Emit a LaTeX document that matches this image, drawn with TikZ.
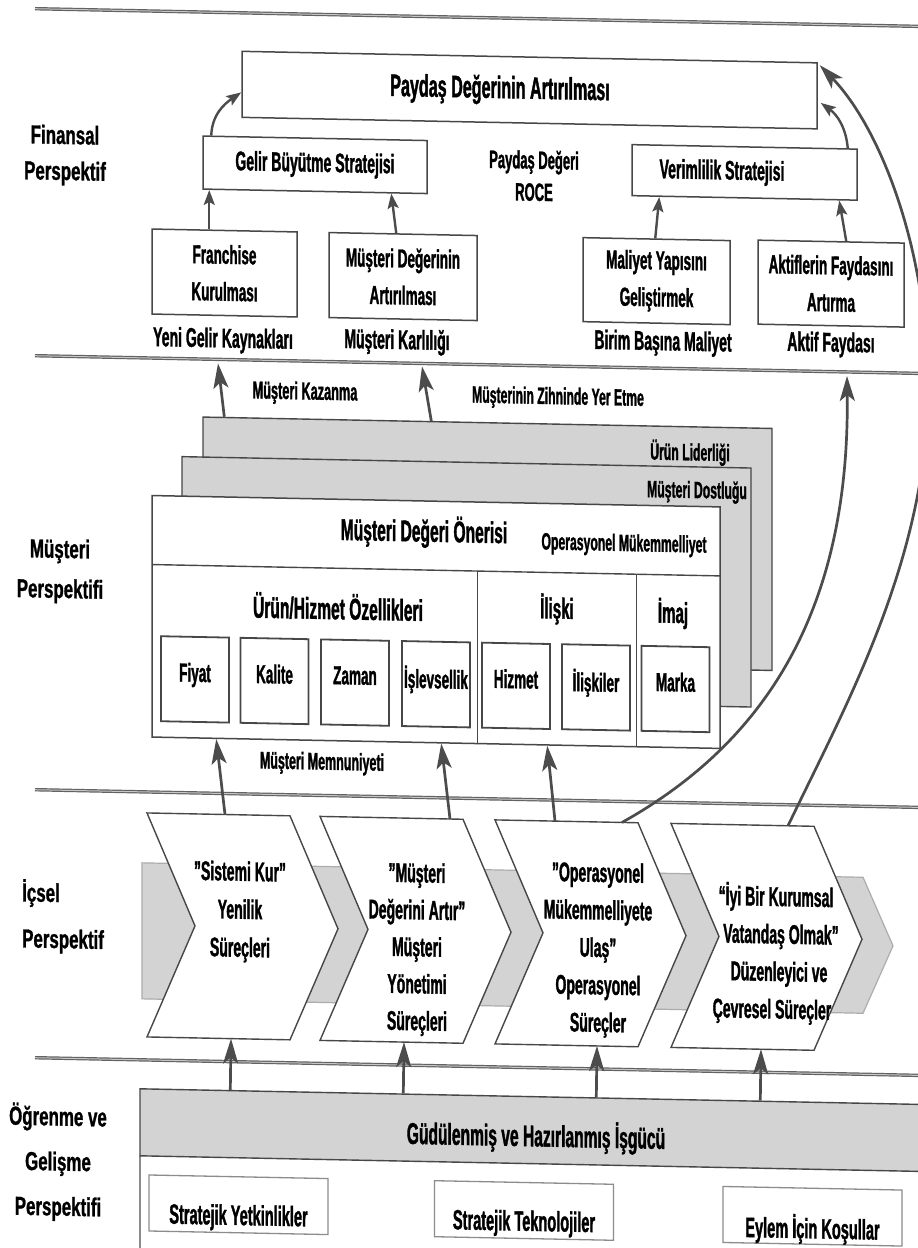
\documentclass[tikz,border=0pt]{standalone}
\usepackage{fontspec}
\setmainfont{Liberation Sans}[FakeStretch=0.52, BoldFeatures={FakeBold=1.2}]
\newfontfamily\sectfont{Liberation Sans}[FakeStretch=0.65, BoldFeatures={FakeBold=1.0}]
\usetikzlibrary{arrows.meta,calc}
\definecolor{linec}{HTML}{474747}
\definecolor{arrc}{HTML}{4C4C4C}
\definecolor{shade}{HTML}{D3D3D3}
\definecolor{sepc}{HTML}{626262}
\definecolor{lightline}{HTML}{8C8C8C}
\tikzset{
  fs/.style 2 args={font=\bfseries\fontsize{#1}{#2}\selectfont},
  txt/.style={align=center, inner sep=0pt, text=black},
  plainbox/.style={draw=linec, line width=1.5pt, fill=white, inner sep=0pt, align=center},
  smallbox/.style={plainbox, line width=1.8pt, minimum width=68pt, minimum height=85pt, fs={26}{10}},
  shadebox/.style={draw=linec, line width=1.4pt, fill=shade, inner sep=0pt},
  basebox/.style={draw=lightline, line width=1.3pt, fill=white, inner sep=0pt, minimum width=179pt, minimum height=56pt},
  chev/.style={draw=linec, line width=1.4pt, fill=white, line join=miter},
  arr/.style={draw=arrc, line width=2.4pt, -{Stealth[length=15pt,width=11pt,inset=3pt]}},
  bigarr/.style={draw=arrc, line width=2.7pt, -{Stealth[length=25pt,width=15pt,inset=6pt]}},
  sepline/.style={draw=sepc, line width=1.2pt, double=gray!45, double distance=1pt},
  sect/.style={align=center, inner sep=0pt, font=\sectfont\bfseries\fontsize{26}{#1}\selectfont},
}
\begin{document}
\begin{tikzpicture}[x=1pt,y=-1pt]
\useasboundingbox (0,0) rectangle (918,1248);
\clip (0,0) rectangle (918,1248);
\fill[white] (0,0) rectangle (918,1248);
\begin{scope}[yslant=-0.02, transform shape]

% perspective separators
\draw[sepline] (35,8) -- (935,8);
\draw[sepline] (35,355) -- (935,355);
\draw[sepline] (35,789) -- (935,789);
\draw[sepline] (35,1057) -- (935,1057);

% perspective titles
\node[sect=36] (pfin) at (65,154) {Finansal\\Perspektif};
\node[sect=40] (pmus) at (60,570) {Müşteri\\Perspektifi};
\node[sect=46, align=left, anchor=west] (pic) at (22,915.5) {İçsel\\Perspektif};
\node[sect=45] (pogr) at (58,1161) {Öğrenme ve\\Gelişme\\Perspektifi};

% financial perspective
\node[plainbox, minimum width=575pt, minimum height=66pt] (pay) at (529.5,79.5) {};
\node[txt, fs={31}{37}] (payt) at (500,80) {Paydaş Değerinin Artırılması};
\node[plainbox, minimum width=224pt, minimum height=53pt, fs={27}{37}] (gel) at (315,158.5) {Gelir Büyütme Stratejisi};
\node[plainbox, minimum width=225pt, minimum height=51pt] (ver) at (744.5,157.5) {};
\node[txt, fs={27}{37}] (vert) at (722,158) {Verimlilik Stratejisi};
\node[txt, fs={25}{32}] (roce) at (534,165) {Paydaş Değeri\\ROCE};
\node[plainbox, minimum width=145pt, minimum height=85pt, fs={26}{37}] (fr) at (224.5,268.5) {Franchise\\Kurulması};
\node[plainbox, minimum width=148pt, minimum height=85pt, fs={26}{37}] (md) at (403,268.5) {Müşteri Değerinin\\Artırılması};
\node[plainbox, minimum width=147pt, minimum height=84pt, fs={26}{37}] (ma) at (656.5,268) {Maliyet Yapısını\\Geliştirmek};
\node[plainbox, minimum width=146pt, minimum height=84pt, fs={26}{37}] (ak) at (831,267) {Aktiflerin Faydasını\\Artırma};
\node[txt, fs={27}{37}] (yeni) at (223,336) {Yeni Gelir Kaynakları};
\node[txt, fs={27}{37}] (karl) at (397,334) {Müşteri Karlılığı};
\node[txt, fs={27}{37}] (birim) at (663,330) {Birim Başına Maliyet};
\node[txt, fs={27}{37}] (aktif) at (831,328) {Aktif Faydası};

% customer perspective
\node[txt, fs={24.5}{30}] (kaz) at (305,387) {Müşteri Kazanma};
\node[txt, fs={23.5}{30}] (zih) at (558,387) {Müşterinin Zihninde Yer Etme};
\node[shadebox, minimum width=569pt, minimum height=242pt] (g1) at (487.5,534) {};
\node[shadebox, minimum width=569pt, minimum height=239pt] (g2) at (466.5,572.5) {};
\node[plainbox, minimum width=568pt, minimum height=241.5pt] (w) at (436,613.25) {};
\draw[linec, line width=1.4pt] (152,561.5) -- (720,561.5);
\draw[linec, line width=1pt] (477,561.5) -- (477,734);
\draw[linec, line width=1pt] (636,561.5) -- (636,734);
\node[txt, fs={23.5}{30}] (lid) at (690,439) {Ürün Liderliği};
\node[txt, fs={23.5}{30}] (dost) at (697,478) {Müşteri Dostluğu};
\node[txt, fs={30}{37}] (oner) at (424,523.5) {Müşteri Değeri Önerisi};
\node[txt, fs={23.5}{30}] (opm) at (624,532.5) {Operasyonel Mükemmelliyet};
\node[txt, fs={30}{37}] (ozel) at (338,600) {Ürün/Hizmet Özellikleri};
\node[txt, fs={29}{37}] (ilis) at (557,598) {İlişki};
\node[txt, fs={29}{37}] (imaj) at (673,600) {İmaj};
\node[smallbox] (fiyat) at (195,675.5) {Fiyat\\[4pt]};
\node[smallbox] (kalite) at (274.5,675.5) {Kalite\\[4pt]};
\node[smallbox] (zaman) at (355,675.5) {Zaman\\[4pt]};
\node[smallbox] (islev) at (436,675.5) {İşlevsellik\\[4pt]};
\node[smallbox] (hizmet) at (516,675.5) {Hizmet\\[4pt]};
\node[smallbox] (iliskiler) at (596,675.5) {İlişkiler\\[4pt]};
\node[smallbox] (marka) at (675.5,675.5) {Marka\\[4pt]};
\node[txt, fs={24}{30}] (memn) at (322,757) {Müşteri Memnuniyeti};

% internal perspective: shaded band and process chevrons
\draw[draw=gray!65, line width=1.2pt, fill=shade] (142,860) -- (863,860) -- (893,928) -- (863,996) -- (142,996) -- cycle;
\foreach \a in {147,320,495,671}{
  \draw[chev] (\a,810) -- ++(143,0) -- ++(48,112) -- ++(-48,112) -- ++(-143,0) -- ++(48,-112) -- cycle;
}
\node[txt, fs={27}{38}] (ch1) at (240,907) {"Sistemi Kur"\\Yenilik\\Süreçleri};
\node[txt, fs={27}{37}] (ch2) at (417,941) {"Müşteri\\Değerini Artır"\\Müşteri\\Yönetimi\\Süreçleri};
\node[txt, fs={27}{37.5}] (ch3) at (598,938) {"Operasyonel\\Mükemmelliyete\\Ulaş"\\Operasyonel\\Süreçler};
\node[txt, fs={27}{37.5}] (ch4) at (776,938) {“İyi Bir Kurumsal\\\hspace*{10pt}Vatandaş Olmak"\\\hspace*{6pt}Düzenleyici ve\\Çevresel Süreçler\hspace*{8pt}};
\coordinate (c1top) at (225,810);
\coordinate (c2top) at (450,810);
\coordinate (c3top) at (555,810);
\coordinate (c3curve) at (622,810);
\coordinate (c4top) at (788,810);
\coordinate (c1bot) at (231,1034);
\coordinate (c2bot) at (404,1034);
\coordinate (c3bot) at (597,1034);
\coordinate (c4bot) at (761,1034);
\coordinate (k1) at (218,359);
\coordinate (k2) at (422,358);
\coordinate (kf) at (847,359);

% learning and growth perspective
\draw[lightline, line width=1.3pt] (140,1153) -- (140,1260);
\node[shadebox, minimum width=790pt, minimum height=67pt] (gud) at (535,1119.5) {};
\node[txt, fs={30}{37}] (gudt) at (536,1126) {Güdülenmiş ve Hazırlanmış İşgücü};
\node[basebox] (sy) at (238.5,1200) {};
\node[basebox] (st) at (524,1200) {};
\node[basebox] (ek) at (812.5,1200) {};
\node[txt, fs={28}{37}] (syt) at (238.5,1213) {Stratejik Yetkinlikler};
\node[txt, fs={28}{37}] (stt) at (524,1213) {Stratejik Teknolojiler};
\node[txt, fs={28}{37}] (ekt) at (812.5,1213) {Eylem İçin Koşullar};

% connectors
\draw[arr] ($(fr.north west)+(58,0)$) -- ($(gel.south west)+(7,0)$);
\draw[arr] ($(md.north west)+(68,0)$) -- ($(gel.south west)+(189,0)$);
\draw[arr] ($(ma.north west)+(73,0)$) -- ($(ver.south west)+(28,0)$);
\draw[arr] ($(ak.north west)+(89,0)$) -- ($(ver.south west)+(208,0)$);
\draw[arr] ($(gel.north west)+(9,0)$) to[out=88, in=215] ($(pay.west)+(0,8)$);
\draw[arr] ($(ver.north east)+(-10,0)$) to[out=95, in=-35] ($(pay.east)+(3,7)$);

\draw[bigarr] ($(g1.north west)+(22,0)$) -- (k1);
\draw[bigarr] ($(g1.north west)+(229,0)$) -- (k2);

\draw[bigarr] (c1top) -- ($(w.south west)+(65,0)$);
\draw[bigarr] (c2top) -- ($(w.south west)+(290,0)$);
\draw[bigarr] (c3top) -- ($(w.south west)+(396,0)$);

\draw[bigarr] ($(gud.north west)+(91,0)$) -- (c1bot);
\draw[bigarr] ($(gud.north west)+(264,0)$) -- (c2bot);
\draw[bigarr] ($(gud.north west)+(457,0)$) -- (c3bot);
\draw[bigarr] ($(gud.north west)+(621,0)$) -- (c4bot);

\draw[bigarr] (c3curve) .. controls (760,730) and (850,600) .. (kf);
\draw[bigarr] (c4top) .. controls (845,690) and (928,540) .. (928,370)
  .. controls (928,230) and (880,110) .. ($(pay.north east)+(2,3)$);

\end{scope}
\end{tikzpicture}
\end{document}
